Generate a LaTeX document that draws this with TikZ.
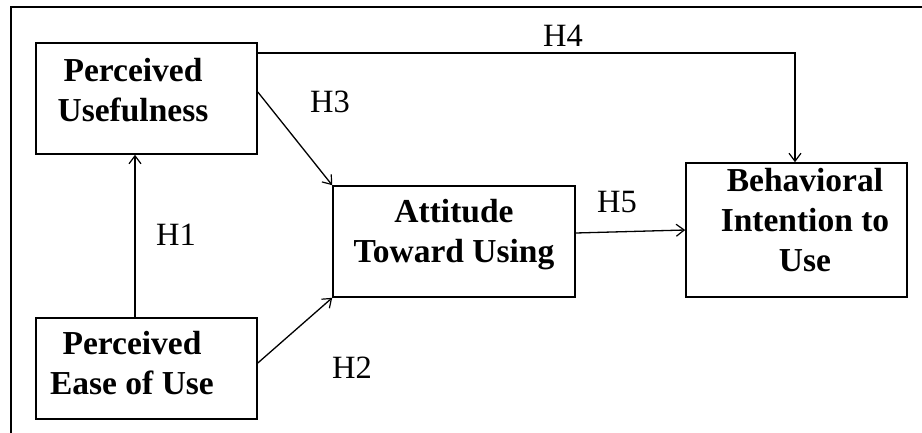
\documentclass[tikz,border=0pt]{standalone}
\usepackage{fontspec}
\setmainfont{Liberation Serif}
\usetikzlibrary{arrows.meta}
\begin{document}
\begin{tikzpicture}[x=1pt,y=-1pt,
  box/.style={draw, line width=1.6pt, inner sep=0pt, minimum width=#1},
  lbl/.style={font=\fontsize{33.5}{40}\selectfont\bfseries, align=center, inner sep=0pt, anchor=north},
  hyp/.style={font=\fontsize{32.5}{38}\selectfont, inner sep=0pt, anchor=base},
  arr/.style={draw, line width=1.3pt, -{Straight Barb[length=8pt,width=12pt,line width=1.2pt]}}]
\useasboundingbox[fill=white] (0,0) rectangle (922,433);
\draw[line width=2pt] (11,433) -- (11,7) -- (922,7);
% boxes
\node[box=221pt, minimum height=111pt] (pu)  at (146.5,98.5) {};
\node[box=242pt, minimum height=111pt] (att) at (454,241.5) {};
\node[box=221pt, minimum height=134pt] (bi)  at (796.5,230) {};
\node[box=221pt, minimum height=101pt] (peu) at (146.5,368.5) {};
% texts
\node[lbl] (put)  at (133,58)  {Perceived\\Usefulness};
\node[lbl] (attt) at (454,199) {Attitude\\Toward Using};
\node[lbl] (bit)  at (805,168) {Behavioral\\Intention to\\Use};
\node[lbl] (peut) at (132,331) {Perceived\\Ease of Use};
% connectors
\draw[arr] (peu.north -| 135,0) -- (pu.south -| 135,0);
\draw[arr] (peu.east |- 0,363) -- (att.south west);
\draw[arr] (pu.east |- 0,92) -- (att.north west);
\draw[arr] (pu.east |- 0,53) -| (bi.north -| 795,0);
\draw[arr] (att.east |- 0,233) -- (bi.west);
% hypothesis labels
\node[hyp] (h1) at (176,245) {H1};
\node[hyp] (h2) at (352,378) {H2};
\node[hyp] (h3) at (330,113) {H3};
\node[hyp] (h4) at (563,47)  {H4};
\node[hyp] (h5) at (617,213) {H5};
\end{tikzpicture}
\end{document}
